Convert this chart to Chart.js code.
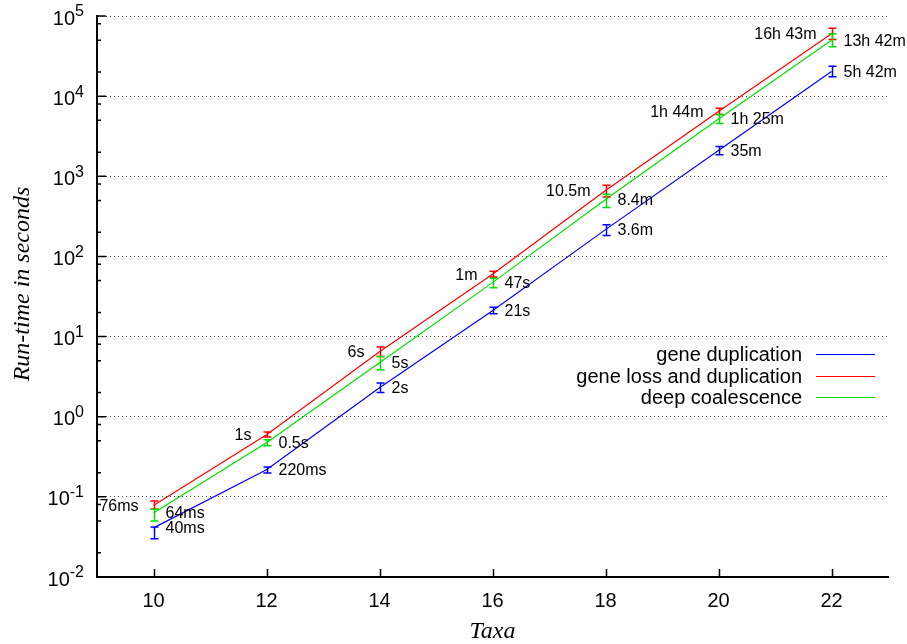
<!DOCTYPE html>
<html>
<head>
<meta charset="utf-8">
<script src="https://cdn.jsdelivr.net/npm/chart.js@4/dist/chart.umd.min.js"></script>
<style>
html, body { margin: 0; padding: 0; background: #fff; }
#wrap { width: 907px; height: 644px; }
</style>
</head>
<body>
<div id="wrap"><canvas id="runtimeChart"></canvas></div>
<script>
// number of taxa (x axis)
const taxa = [10, 12, 14, 16, 18, 20, 22];

// run-time in seconds: value, lower and upper end of the error bar
const dupValues = [0.041, 0.218, 2.30, 21.0, 216, 2094, 20300];
const dupLow    = [0.030, 0.198, 2.01, 19.3, 183, 1850, 17400];
const dupHigh   = [0.042, 0.235, 2.63, 23.2, 249, 2360, 23600];
const dupLabels = ['40ms', '220ms', '2s', '21s', '3.6m', '35m', '5h 42m'];

const lossValues = [0.078, 0.596, 6.48, 60.1, 663, 6430, 59900];
const lossLow    = [0.0705, 0.558, 5.66, 55.4, 553, 5890, 50900];
const lossHigh   = [0.0887, 0.644, 7.41, 65.2, 772, 7060, 70400];
const lossLabels = ['76ms', '1s', '6s', '1m', '10.5m', '1h 44m', '16h 43m'];

const coalValues = [0.063, 0.473, 4.72, 47.1, 512, 5180, 49900];
const coalLow    = [0.050, 0.434, 3.86, 40.8, 407, 4550, 41300];
const coalHigh   = [0.070, 0.516, 5.66, 53.3, 596, 5890, 60000];
const coalLabels = ['64ms', '0.5s', '5s', '47s', '8.4m', '1h 25m', '13h 42m'];

// y axis decades and their exponents
const yTicks = [0.01, 0.1, 1, 10, 100, 1000, 10000, 100000];
const yExponents = ['-2', '-1', '0', '1', '2', '3', '4', '5'];
const minorFactors = [2, 5, 8];

const FONT = '"Liberation Sans", Arial, sans-serif';
const SERIF = '"Liberation Serif", "Times New Roman", serif';

function series(label, color, values, low, high, labels, side) {
    return {
        label: label,
        data: taxa.map((t, i) => ({ x: t, y: values[i] })),
        borderColor: color,
        backgroundColor: color,
        borderWidth: 1.2,
        pointRadius: 0,
        tension: 0,
        errLow: low,
        errHigh: high,
        pointLabels: labels,
        labelSide: side
    };
}

// error bars, value labels, inward ticks, y labels and legend
const extras = {
    id: 'extras',
    afterDatasetsDraw(chart) {
        const { ctx, chartArea: a, scales: { x, y } } = chart;
        ctx.save();

        chart.data.datasets.forEach((ds, i) => {
            const meta = chart.getDatasetMeta(i);
            ctx.strokeStyle = ds.borderColor;
            ctx.lineWidth = 1.5;
            ds.errLow.forEach((lo, j) => {
                const px = Math.round(x.getPixelForValue(taxa[j])) + 0.5;
                const y1 = y.getPixelForValue(lo);
                const y2 = y.getPixelForValue(ds.errHigh[j]);
                ctx.beginPath();
                ctx.moveTo(px, y1); ctx.lineTo(px, y2);
                ctx.moveTo(px - 4, y1); ctx.lineTo(px + 4, y1);
                ctx.moveTo(px - 4, y2); ctx.lineTo(px + 4, y2);
                ctx.stroke();
            });

            ctx.fillStyle = '#000';
            ctx.font = '16px ' + FONT;
            ctx.textBaseline = 'middle';
            meta.data.forEach((pt, j) => {
                if (ds.labelSide === 'left') {
                    ctx.textAlign = 'right';
                    ctx.fillText(ds.pointLabels[j], pt.x - 15, pt.y + 1);
                } else {
                    ctx.textAlign = 'left';
                    ctx.fillText(ds.pointLabels[j], pt.x + 12, pt.y + 1);
                }
            });
        });

        // inward tick marks
        ctx.strokeStyle = '#000';
        ctx.lineWidth = 1.5;
        ctx.beginPath();
        taxa.forEach(t => {
            const px = Math.round(x.getPixelForValue(t)) + 0.5;
            ctx.moveTo(px, a.bottom); ctx.lineTo(px, a.bottom - 8);
        });
        yTicks.forEach((v, k) => {
            const py = y.getPixelForValue(v);
            ctx.moveTo(a.left, py); ctx.lineTo(a.left + 9, py);
            if (k < yTicks.length - 1) {
                minorFactors.forEach(f => {
                    const pm = y.getPixelForValue(v * f);
                    ctx.moveTo(a.left, pm); ctx.lineTo(a.left + 4, pm);
                });
            }
        });
        ctx.stroke();

        // y tick labels with raised exponents
        ctx.fillStyle = '#000';
        ctx.textBaseline = 'middle';
        yTicks.forEach((v, k) => {
            const py = y.getPixelForValue(v);
            ctx.font = '16px ' + FONT;
            ctx.textAlign = 'right';
            const ew = ctx.measureText(yExponents[k]).width;
            ctx.fillText(yExponents[k], 84, py - 4);
            ctx.font = '20px ' + FONT;
            ctx.fillText('10', 84 - ew, py + 3);
        });

        // y axis title
        ctx.save();
        ctx.translate(23, 284);
        ctx.rotate(-Math.PI / 2);
        ctx.font = 'italic 24px ' + SERIF;
        ctx.textAlign = 'center';
        ctx.fillText('Run-time in seconds', 0, 0);
        ctx.restore();

        // legend: text right-aligned, sample line on the right
        ctx.font = '20px ' + FONT;
        chart.data.datasets.forEach((ds, i) => {
            const ly = Math.round(a.top + 338 + i * 21.5) + 0.5;
            ctx.fillStyle = '#000';
            ctx.textAlign = 'right';
            ctx.fillText(ds.label, a.right - 86, ly + 1);
            ctx.strokeStyle = ds.borderColor;
            ctx.lineWidth = 1;
            ctx.beginPath();
            ctx.moveTo(a.right - 72, ly); ctx.lineTo(a.right - 13, ly);
            ctx.stroke();
        });

        ctx.restore();
    }
};

new Chart(document.getElementById('runtimeChart'), {
    type: 'line',
    data: {
        datasets: [
            series('gene duplication', '#0000ff', dupValues, dupLow, dupHigh, dupLabels, 'right'),
            series('gene loss and duplication', '#ff0000', lossValues, lossLow, lossHigh, lossLabels, 'left'),
            series('deep coalescence', '#00e000', coalValues, coalLow, coalHigh, coalLabels, 'right')
        ]
    },
    options: {
        responsive: true,
        maintainAspectRatio: false,
        animation: false,
        layout: { padding: { top: 16, right: 19, left: 0, bottom: 0 } },
        plugins: {
            legend: { display: false },
            tooltip: { enabled: false }
        },
        scales: {
            x: {
                type: 'linear',
                min: 9,
                max: 23,
                afterBuildTicks: s => { s.ticks = taxa.map(v => ({ value: v })); },
                afterFit: s => { s.height = 67; },
                grid: { display: false, drawTicks: false },
                border: { display: true, color: '#000', width: 2 },
                ticks: {
                    padding: 12,
                    color: '#000',
                    font: { family: FONT, size: 20 }
                },
                title: {
                    display: true,
                    text: 'Taxa',
                    color: '#000',
                    padding: { top: 0, bottom: -2 },
                    font: { family: SERIF, size: 24, style: 'italic' }
                }
            },
            y: {
                type: 'logarithmic',
                min: 0.01,
                max: 100000,
                afterBuildTicks: s => { s.ticks = yTicks.map(v => ({ value: v, major: true })); },
                afterFit: s => { s.width = 97; },
                grid: { display: true, drawTicks: false, color: '#444', lineWidth: 1 },
                border: { display: true, color: '#000', width: 2, dash: [1, 3] },
                ticks: { display: false }
            }
        }
    },
    plugins: [extras]
});
</script>
</body>
</html>
